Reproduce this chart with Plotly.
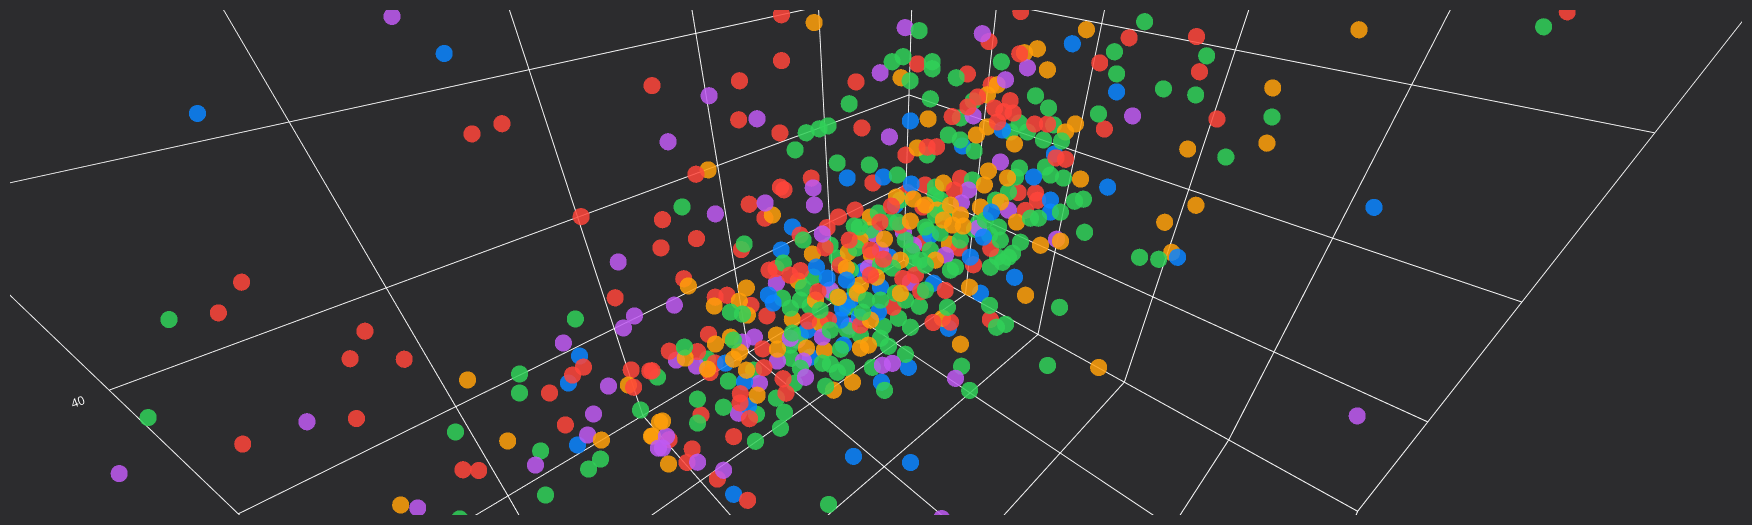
import plotly.graph_objects as go

x_red=[85.2,86.8,81.5,82.7,80.6,83.8,88.8,80.8,80.2,71.5,72.9,64.8,70.5,71.0,73.8,74.4,75.7,72.0,71.3,72.3,75.8,67.9,67.1,66.6,65.9,65.5,68.2,66.4,70.1,69.0,68.6,69.0,71.2,66.8,66.3,66.5,68.3,68.5,68.5,70.3,72.1,69.5,71.4,71.9,71.1,70.4,56.9,59.2,58.5,59.0,58.0,60.4,59.4,63.0,64.0,63.2,64.4,63.7,58.2,50.7,48.8,45.2,46.9,59.2,54.0,49.8,52.3,56.8,61.3,62.2,60.9,57.6,65.1,53.8,53.0,55.5,55.1,56.5,60.7,62.1,62.0,58.4,67.4,63.7,63.4,66.5,68.1,65.0,62.4,61.2,60.5,59.7,61.7,60.0,59.0,58.2,56.4,57.3,54.9,55.4,57.0,53.0,53.1,52.3,52.4,50.4,50.7,48.2,50.3,50.8,51.4,51.7,52.0,51.2,52.2,52.4,51.6,57.8,56.5,55.3,56.3,63.2,64.1,42.5,43.2,43.6,27.6,58.81,61.51,58.28,62.07,59.7,60.6,60.56]
y_red=[32.9,32.6,40.0,40.0,42.6,41.9,37.3,48.3,49.1,40.8,39.7,46.8,47.0,50.8,51.2,50.9,50.3,53.5,54.4,54.1,51.9,53.5,55.5,56.0,57.4,58.4,56.2,59.1,54.8,56.1,57.3,57.3,54.5,59.7,60.9,61.4,59.3,59.5,60.4,58.0,57.2,60.1,58.5,58.6,60.5,62.5,69.0,66.4,67.2,65.0,66.1,64.1,63.8,60.2,60.5,61.4,57.3,58.4,51.0,61.4,62.1,67.9,67.2,52.2,58.7,63.2,61.3,56.3,50.8,51.8,54.1,57.8,51.3,61.7,62.2,61.4,61.8,60.6,56.8,55.6,55.8,59.8,50.9,54.6,55.7,53.0,51.6,55.4,57.8,58.9,59.1,59.7,59.3,61.5,61.2,61.3,62.3,61.7,63.8,63.8,62.8,66.9,67.7,67.7,68.0,68.2,67.7,69.2,66.4,65.8,64.5,64.0,63.5,64.0,64.0,62.4,62.7,63.8,65.6,67.1,66.7,58.8,57.6,71.0,72.1,74.2,87.7,64.28,60.49,62.23,63.06,62.35,60.23,62.17]
z_red=[60.2,58.65,57.75,56.35,56.35,53.35,52.1,50.8,50.8,68.1,67.6,70,63.45,59.4,55.95,55.55,54.65,55.8,55.75,54.95,53.05,60.35,59.45,59.55,59.05,58.5,57.6,56.85,56.75,56.7,56.2,55.7,55.75,55.95,55.4,54.65,54.65,54.15,53.4,53.55,52.35,52.45,51.85,51.15,50.35,49.3,58.35,58.2,58.2,59.75,59.8,58.95,60.4,59.75,58.25,58.3,60.8,60.55,73.55,72.2,73.7,72.4,71.15,71.25,71.1,71.6,70.6,70.2,70.25,68.3,67.65,67.9,65.6,68.45,68.95,66.95,66.95,66.55,65.4,64.95,64.8,65.15,63.3,64.1,63.4,62.35,61.9,61.8,62.55,62.95,63.45,63.8,61.9,61.8,63.2,64,65.05,64.7,65.4,64.8,63.95,64.7,63.8,64.65,64.3,66.35,66.4,67.85,68.1,68.1,68.65,68.7,68.9,69.25,68.2,69.45,70.05,62.2,61.9,61.9,61.05,60.8,60.9,72.45,70.7,68.35,73.7,60.55,61.05,63.05,58.05,61.35,62.3,60.55]

x_green=[88.88,91.9,80.24,82.03,73.03,76.44,76.87,71.14,72.54,77.35,75.2,75.89,78.15,66.84,66.42,64.51,64.42,64.9,67.35,69.42,68.79,68.47,67.24,65.51,65.95,66.98,70.08,69.25,68.12,66.99,70.61,67.5,68.77,67.34,53.93,56.61,56.83,56.41,58.29,59.06,59.29,55.7,59.36,60.18,61.21,60.44,61.59,61.46,60.98,62.56,62.6,64.8,63.57,64.03,64.41,64.12,63.39,65.38,63.6,62.18,62.7,55.72,62.83,53.18,44.22,46.07,46.48,54.93,54.39,53.37,53.53,50.69,52.8,54.66,54.28,57.54,59.86,59.27,58.86,60.68,54.39,53.54,54.03,53.74,55.66,59.34,58.13,57.27,66.36,64.77,62.39,60.51,59.91,60.09,58.86,58.32,57.34,56.06,56.24,54.47,56.16,54.02,53.34,52.72,52.37,51.34,51.32,50.88,50.97,50.58,51.76,52.75,53.06,51.28,53.99,54.73,54.5,55.22,54.8,54.55,49.7,56.9,58.62,57.08,55.14,61.47,63.68,59.55,63.46,62.35,60,50.12,49.89,48.08,50.12,50.8,50.07,51.25,51.36,51.91,52.66,42.58,43.88,45,41.41,44.1,28.85,49,56.24,58.2,59.76,61.28,61.7,63.3,55.49,55.03,58.6,57.34,59.55,58.42,56.68,56.28,54.86,61.23,59.95,57.67,61.45,63.85,61.49,60.73,58.76,57.34,63.36,62.3,65.25,58.29,62.45,58.43,55.19,64.64,57.72]
y_green=[30.43,32.1,46.94,49.48,49.51,48.38,48.89,54.94,55.03,51.44,54.48,54.19,52.87,56.61,57.22,58.67,59.31,60.08,57.5,55.39,56.8,58.37,59.26,60.71,61.53,61.09,57.41,58.85,60.59,61.85,58.06,62.09,61.27,66.41,71.91,68.58,69.49,69.84,66.65,68.91,69.94,72.92,65.31,65.46,64.16,64.65,64.35,64.94,65.95,64.76,65.95,63.07,63.54,63.25,62.3,62.7,62.77,61.4,60.19,61.96,62.58,67.59,59.55,57.86,68.18,67.58,68.28,57.43,57.81,59.31,59.5,62.55,60.87,58.79,60.22,56.55,55.31,55.82,56.16,55.26,62.04,62.14,62.73,63.69,61.59,57.59,59.14,60.73,51.5,55.41,58.07,60.78,60.35,60.09,60.86,62.01,63.45,62.84,63.05,64.39,63.42,66.01,66.4,66.33,66.26,67.46,67.91,68.6,69.75,70.11,69.38,68.52,68.14,71.06,68.32,67.32,66.88,67.64,68.16,68.25,74.31,64.31,63.87,65.95,68.02,60.16,57.76,63.01,59.37,61.22,63.83,65.07,66.01,68.51,67.51,66.63,66.7,65.67,65.04,64.87,62.29,72.01,72.55,70.88,76.72,75.64,87.0,75.26,63.98,64.48,64.49,62.66,62.8,60.77,65.81,66.68,61.68,63.62,60.95,62.86,63.6,65.44,66.08,61.1,62.37,64.31,59.48,59.56,61.87,63.32,65.16,65.79,61.78,63.33,60.31,64.12,60.87,63.44,65.83,60.51,61.55]
z_green=[58.3,53.4,52.7,48.35,58.35,55.6,54.65,55.45,53.8,51.75,51.35,50.85,49.55,58.7,58.6,59.4,58.9,57.65,57.3,56.95,56.35,55.25,55.8,56.4,55.15,54.4,54.35,53.95,53.6,53.7,53.15,52.9,52.25,49.1,58.95,59.05,57.95,58.1,58.95,56,54.8,56.05,59,57.95,58,58.4,57.4,57,56.6,55.95,54.8,55,55.95,55.7,56.15,56.1,56.85,55.9,59,58.95,57.8,60.95,60.45,72.75,73.2,71.7,70.6,71.2,71.45,71.2,70.85,71.2,70.4,70.25,69.35,69.1,67.65,67.85,68,66.8,67.55,68.4,67.3,66.75,66.55,66.15,66.05,65.55,63.95,62.1,62.3,61.9,62.95,63,63.65,63.2,62.95,64.95,64.55,65.3,64.3,64.3,64.7,65.45,65.9,65.95,65.55,65.4,64.25,64.35,63.7,63.4,63.4,62.7,62.2,62.3,62.95,61.45,61.45,61.65,61.45,62.65,61.15,60.95,61.2,61.4,61.15,60.9,59.9,59.45,59.65,69.5,68.9,68.6,67.25,67.3,68.05,67.7,68.15,67.7,69.25,71.5,69.55,69.85,68.45,66.45,72.95,61.35,63.7,61.05,59.3,59.3,58.7,58.8,62.85,62.55,63.2,62.8,62.8,62.3,63.55,62.3,63.3,60.8,61.05,61.8,62.05,59.3,59.8,59.3,59.8,60.8,57.8,57.55,57.05,61.3,59.65,61.75,63.15,57.55,64.3]

x_blue=[72.17,83.13,73.7,74.74,75.78,68.18,67.86,68.25,64.98,64.97,65.29,63.21,70.81,55.01,56.69,58.72,58.29,61.16,62.54,63.18,64.74,64.25,62.39,61.93,61.08,60.44,62.31,62.48,47.53,46.88,55.55,54.09,62.52,63.47,59.28,57.86,59.42,56.93,50.7,49.37,51.88,52.15,55.32,56.27,54.45,52.18,52.02,39.48,48.22,61.61,60.75,58.02,61.9,57.33,62.74]
y_blue=[36.18,26.21,50.71,50.92,53.02,57.75,59.15,59.99,57.92,58.37,66.28,69.12,61.68,68.99,67.82,67.27,65.35,66.45,65.58,62.8,61.57,60.7,61.75,62.79,63.55,62.97,60.23,59.42,65.39,68.76,59.88,63,57.21,57.31,58.46,60.13,62.57,61.63,67.53,70.92,68.59,68.91,66.44,66.37,66.14,64.44,67.17,83.94,76.09,61.18,61.73,61.45,61.91,63.91,61.98]
z_blue=[71.6,68.6,56.5,55.15,52.05,56.15,55.2,54,59.55,59.15,51.5,51.2,49.6,60.45,59.65,57.9,60.15,55.95,55.2,57.05,56.45,57.8,58.9,58.45,58.7,59.95,60.4,60.95,72.1,69.7,68.25,67,62.95,61.8,65.4,65.45,61.45,65.1,66.6,64.95,64.3,63.7,62.45,61.45,63.7,67.8,65.45,63.95,61.45,60.3,60.75,64.05,59.3,62.55,58.3]

x_purple=[73.37,70.08,85.8,94.29,83.42,70.66,71.36,74.04,73.25,74.46,77.87,75.16,72.7,68.87,64.4,67.05,66.47,70.02,69.37,66.11,67.31,68.8,72.12,72.54,71.49,70.66,63.26,59.57,61.69,62.12,63.82,65.1,65.38,64.86,62.53,59.17,60.48,53.66,50.8,46.8,49.81,55.64,62.81,61.46,56.72,65.44,52.99,60.83,61.17,65.22,63.04,61.51,59.49,58.32,58.22,54.84,52.97,55.41,53.74,55.31,52.52,50.93,44.8,59.61,62.46,57.2,65.1]
y_purple=[32.74,49.99,39.68,32.26,47.22,52.2,52.01,49.6,52.88,52.93,51.59,53.22,56.9,53.79,57.97,57.98,58.4,55.37,56.47,60.13,59.89,59.71,56.96,57.09,59.12,60.56,72.09,68.95,65.59,65.17,61.59,61.35,61.89,60.5,62.56,64.24,61.88,57.12,60.9,70.16,63.93,57.17,49.76,52.63,59.32,49.08,62.69,57.13,57.65,53.24,55.29,58.8,61.25,62.56,63.38,64.47,65.21,64.49,66.89,65.97,69.93,63.23,88.79,61.96,60.7,65.15,60.12]
z_purple=[73.45,61.2,53.2,50.6,48.9,58.5,57.9,57.15,55,53.6,51.05,52.55,51.9,59.05,60.15,57.2,57.45,56.3,56,56.25,55.15,53.65,52.5,51.9,51.2,50.8,48.4,55.4,56.15,56.05,57.45,56.25,55.45,57.3,58,60.2,60.9,72.9,72.6,68.5,70.9,70.65,69.5,68.35,67.45,67.2,68.5,64.9,64.05,63.6,64.15,62.6,62.6,62.7,62.05,64.8,66.2,64.15,63.8,62.9,62.35,70.3,53.55,61.8,59.8,61.55,57.4]

x_orange=[78.6,84.02,72.45,78.41,74.74,72.66,72.07,67.89,65.68,67.33,66.25,66.25,64.59,68.14,67.4,65.57,65.84,67.39,67.78,69.63,69.01,67.52,67.66,71.93,72.7,72.66,54.98,56.98,58.73,58.61,53.76,62.21,62.59,63.66,64.58,64.04,64.69,63.59,61.48,62.31,59.81,60.38,61.34,63.5,57.08,46.66,49.59,49,49.08,54.94,54.81,53.3,55.89,64.51,63.03,62.35,60.91,59.26,59.21,57.8,57.19,57.8,60.07,56.8,55.66,54.11,53.64,56.5,54.76,53.87,53.69,53.05,50.24,53.28,52.41,55.85,56.25,56.49,49.2,49.77,52.02,52.69,51.97,51.36,40.73,42.2,45.4,36.08,46.35,47.94,48.34,59.07,56.85,60.17,57.7,63.26,61.57,55.88,61.18,55.71]
y_orange=[46.1,46.34,53.79,49.63,54.01,56.3,56.25,53.92,56.7,55.68,56.73,57.48,59.7,56.76,57.28,59.38,59.81,58.11,58.02,55.73,57.07,58.93,60.11,56.36,56.26,57.8,69.99,67.15,66.72,68.26,75.37,63.97,63.68,64.22,63.55,62.04,61.14,61.12,62.05,61.27,64.07,62.51,60.85,58.95,52.71,65.67,63.39,63.89,64.93,58.28,60.66,63.36,60.93,51.72,55.95,58.88,60.52,60.6,61.86,61.28,62.13,62.59,61.68,65.04,63.11,65.08,64.89,63.55,65.49,66.29,67.59,65.97,69.43,69.34,70.17,65.2,64.67,64.11,67.7,67.45,65.38,63.65,62.78,62.98,75.97,77.19,73.64,78.44,75.54,74.54,75.68,63.18,62.86,60.75,64.82,60.27,63.39,64.03,61.97,64.77]
z_orange=[55.3,49.05,55.05,52.25,52.3,52.5,53.2,60,59.9,59,59.25,58.55,58.35,57.1,57.45,57.55,56.85,56.7,56.35,56.4,55.85,55.8,54.55,53.25,52.5,51.1,59.55,59.95,58.4,57.1,55.95,57.05,56.9,55.2,54.8,56.8,56.9,58.15,59.65,59.45,59.65,60.45,60.9,60.25,73.15,72.8,71.65,71.85,70.8,70.4,68.35,67.55,66.9,65.8,63.55,61.6,61.7,63.45,62.35,64.45,64.35,63.25,61.55,62.1,65.15,65.05,65.75,63.8,63.95,64.2,63.2,65.4,65.35,62.05,62.25,63,63.05,63.3,68.1,67.7,67.1,67.95,69.55,70.05,69.9,67.15,66.85,72.8,64.05,63.2,61.7,61.3,64.05,62.3,61.3,59.3,58.3,64.05,60.05,63.55]

COLORS={"red":"#FF453A","green":"#30D158","blue":"#0A84FF","purple":"#BF5AF2","orange":"#FF9F0A"}
X_GAIN=1.0026  # small correction of the x readings about the axis midpoint
rows=[]
for name,X,Y,Z in [("red",x_red,y_red,z_red),("green",x_green,y_green,z_green),("blue",x_blue,y_blue,z_blue),("purple",x_purple,y_purple,z_purple),("orange",x_orange,y_orange,z_orange)]:
    rows+= [(50+(a-50)*X_GAIN,b,c,COLORS[name]) for a,b,c in zip(X,Y,Z)]
n=len(rows)
step=211 if n%211 else 223
rows=[rows[(i*step)%n] for i in range(n)]

fig=go.Figure(go.Scatter3d(x=[r[0] for r in rows],y=[r[1] for r in rows],z=[r[2] for r in rows],mode="markers",
    marker=dict(size=10,color=[r[3] for r in rows],opacity=0.85,line=dict(width=0))))
ax=dict(range=[0,100],tick0=0,dtick=20,gridcolor="#ffffff",gridwidth=2,showbackground=False,showline=False,zeroline=False,title=dict(text=""),tickfont=dict(color="#ffffff",size=12),color="#ffffff")
fig.update_layout(width=1752,height=525,paper_bgcolor="#2C2C2E",showlegend=False,margin=dict(l=10,r=10,t=10,b=10),
  scene=dict(xaxis=ax,yaxis=ax,zaxis=ax,bgcolor="#2C2C2E",aspectmode="manual",aspectratio=dict(x=0.9948,y=0.8286,z=0.8988),camera=dict(eye=dict(x=0.2936,y=0.2936,z=0.2936))))
fig.write_html("out.html",config={"displayModeBar":False},post_script="document.body.style.margin='0';document.body.style.background='#2C2C2E';document.documentElement.style.overflow='hidden';")
